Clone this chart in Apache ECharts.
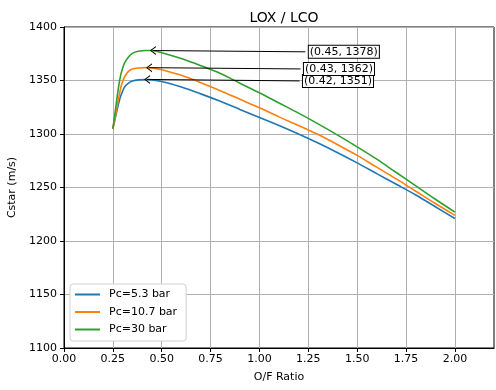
<!DOCTYPE html>
<html>
<head>
<meta charset="utf-8">
<script src="https://cdn.jsdelivr.net/npm/echarts@6/dist/echarts.min.js"></script>
<style>
html,body{margin:0;padding:0;background:#fff;}
#chart{width:496px;height:390px;}
</style>
</head>
<body>
<div id="chart"></div>
<script>
const titleText = 'LOX / LCO';
const xName = 'O/F Ratio';
const yName = 'Cstar (m/s)';
const seriesNames = ['Pc=5.3 bar', 'Pc=10.7 bar', 'Pc=30 bar'];
const colors = ['#1f77b4', '#ff7f0e', '#2ca02c'];

const ofRatio   = [0.25, 0.26, 0.27, 0.28, 0.29, 0.30, 0.31, 0.33, 0.35, 0.38, 0.42, 0.45, 0.50, 0.60, 0.70, 0.80, 0.90, 1.00, 1.10, 1.20, 1.30, 1.40, 1.50, 1.60, 1.70, 1.80, 1.90, 2.00];
const cstarPc5  = [1305, 1313, 1321, 1329, 1335.5, 1340, 1344, 1347.5, 1349.5, 1350.6, 1351, 1350.6, 1349, 1344, 1337.5, 1330.5, 1323, 1315.5, 1308, 1300, 1291.5, 1282.5, 1273, 1263, 1253, 1243, 1232, 1221];
const cstarPc10 = [1305, 1314, 1324, 1334, 1343, 1349, 1353.5, 1358.5, 1360.8, 1361.7, 1362, 1361.8, 1360, 1354.8, 1348, 1340.5, 1332.5, 1324.5, 1316, 1308, 1299.5, 1290, 1280, 1269, 1258, 1246.5, 1235, 1224];
const cstarPc30 = [1305, 1318, 1332, 1345, 1355, 1361.5, 1366.5, 1372, 1375.3, 1377.3, 1378, 1378, 1376, 1370.5, 1363.8, 1356.5, 1347.5, 1338.5, 1329, 1319.5, 1309.5, 1299, 1288, 1276.5, 1264, 1251.5, 1239, 1227];

const peakX = [0.42, 0.43, 0.45];
const peakY = [1351, 1362, 1378];
const annotX = [1.22, 1.225, 1.25];
const annotY = [1349.6, 1360.8, 1376.8];

const xTicks = [0, 0.25, 0.5, 0.75, 1.0, 1.25, 1.5, 1.75, 2.0];

const allY = [cstarPc5, cstarPc10, cstarPc30];
const FONT = 'DejaVu Sans';
const chevron = 'path://M0,10 L5,0 L10,10 L8.6,10 L5,2.6 L1.4,10 Z';

const series = allY.map((ys, i) => ({
  name: seriesNames[i],
  type: 'line',
  data: ofRatio.map((x, j) => [x, ys[j]]),
  smooth: 0.3,
  showSymbol: false,
  symbol: 'none',
  color: colors[i],
  lineStyle: { width: 1.6, color: colors[i] },
  z: 2,
  markLine: {
    silent: true,
    symbol: ['none', chevron],
    symbolSize: [9, 6],
    label: { show: false },
    lineStyle: { color: '#000', width: 1, type: 'solid' },
    emphasis: { disabled: true },
    z: 5,
    data: [[
      { coord: [annotX[i] - 0.015, annotY[i]] },
      { coord: [peakX[i] + 0.005, peakY[i]] }
    ]]
  },
  markPoint: {
    silent: true,
    symbol: 'circle',
    symbolSize: 1,
    itemStyle: { color: 'rgba(0,0,0,0)' },
    z: 6,
    label: {
      show: true,
      position: 'right',
      distance: 0,
      formatter: '(' + peakX[i].toFixed(2) + ', ' + peakY[i] + ')',
      fontFamily: FONT,
      fontSize: 11,
      color: '#000',
      backgroundColor: '#fff',
      borderColor: '#000',
      borderWidth: 1,
      padding: [1, 1, 0, 1]
    },
    data: [{ coord: [annotX[i], annotY[i]] }]
  }
}));

const chart = echarts.init(document.getElementById('chart'), null, { renderer: 'canvas' });
chart.setOption({
  animation: false,
  backgroundColor: '#fff',
  textStyle: { fontFamily: FONT },
  title: {
    text: titleText,
    left: 279,
    textAlign: 'center',
    top: 6,
    textStyle: { fontFamily: FONT, fontSize: 14, fontWeight: 'normal', color: '#000' }
  },
  grid: {
    left: 64, right: 2, top: 27, bottom: 42,
    outerBoundsMode: 'none',
    containLabel: false,
    show: true, borderColor: '#000', borderWidth: 1, backgroundColor: 'transparent'
  },
  legend: {
    orient: 'vertical',
    left: 70,
    top: 284,
    icon: 'rect',
    itemWidth: 25,
    itemHeight: 2,
    itemGap: 6.5,
    padding: [5, 9, 6, 5],
    backgroundColor: '#fff',
    borderColor: '#d0d0d0',
    borderWidth: 1,
    borderRadius: 3,
    textStyle: { fontFamily: FONT, fontSize: 11, color: '#000', padding: [0, 0, 0, 4] },
    data: seriesNames
  },
  xAxis: {
    type: 'value',
    min: 0,
    max: 2.2,
    interval: 0.25,
    name: xName,
    nameLocation: 'middle',
    nameGap: 24,
    nameTextStyle: { fontFamily: FONT, fontSize: 11, color: '#000' },
    axisLine: { show: true, lineStyle: { color: '#000', width: 1 } },
    axisTick: { show: true, length: 4, lineStyle: { color: '#000' }, customValues: xTicks },
    axisLabel: {
      fontFamily: FONT, fontSize: 11, color: '#000', margin: 6,
      customValues: xTicks,
      formatter: v => v.toFixed(2)
    },
    splitLine: { show: true, lineStyle: { color: '#b0b0b0', width: 1 } }
  },
  yAxis: {
    type: 'value',
    min: 1100,
    max: 1400,
    interval: 50,
    name: yName,
    nameLocation: 'middle',
    nameGap: 44,
    nameTextStyle: { fontFamily: FONT, fontSize: 11, color: '#000' },
    axisLine: { show: true, lineStyle: { color: '#000', width: 1 } },
    axisTick: { show: true, length: 4, lineStyle: { color: '#000' } },
    axisLabel: { fontFamily: FONT, fontSize: 11, color: '#000', margin: 7, formatter: v => String(v) },
    splitLine: { show: true, lineStyle: { color: '#b0b0b0', width: 1 } }
  },
  series: series
});
</script>
</body>
</html>
